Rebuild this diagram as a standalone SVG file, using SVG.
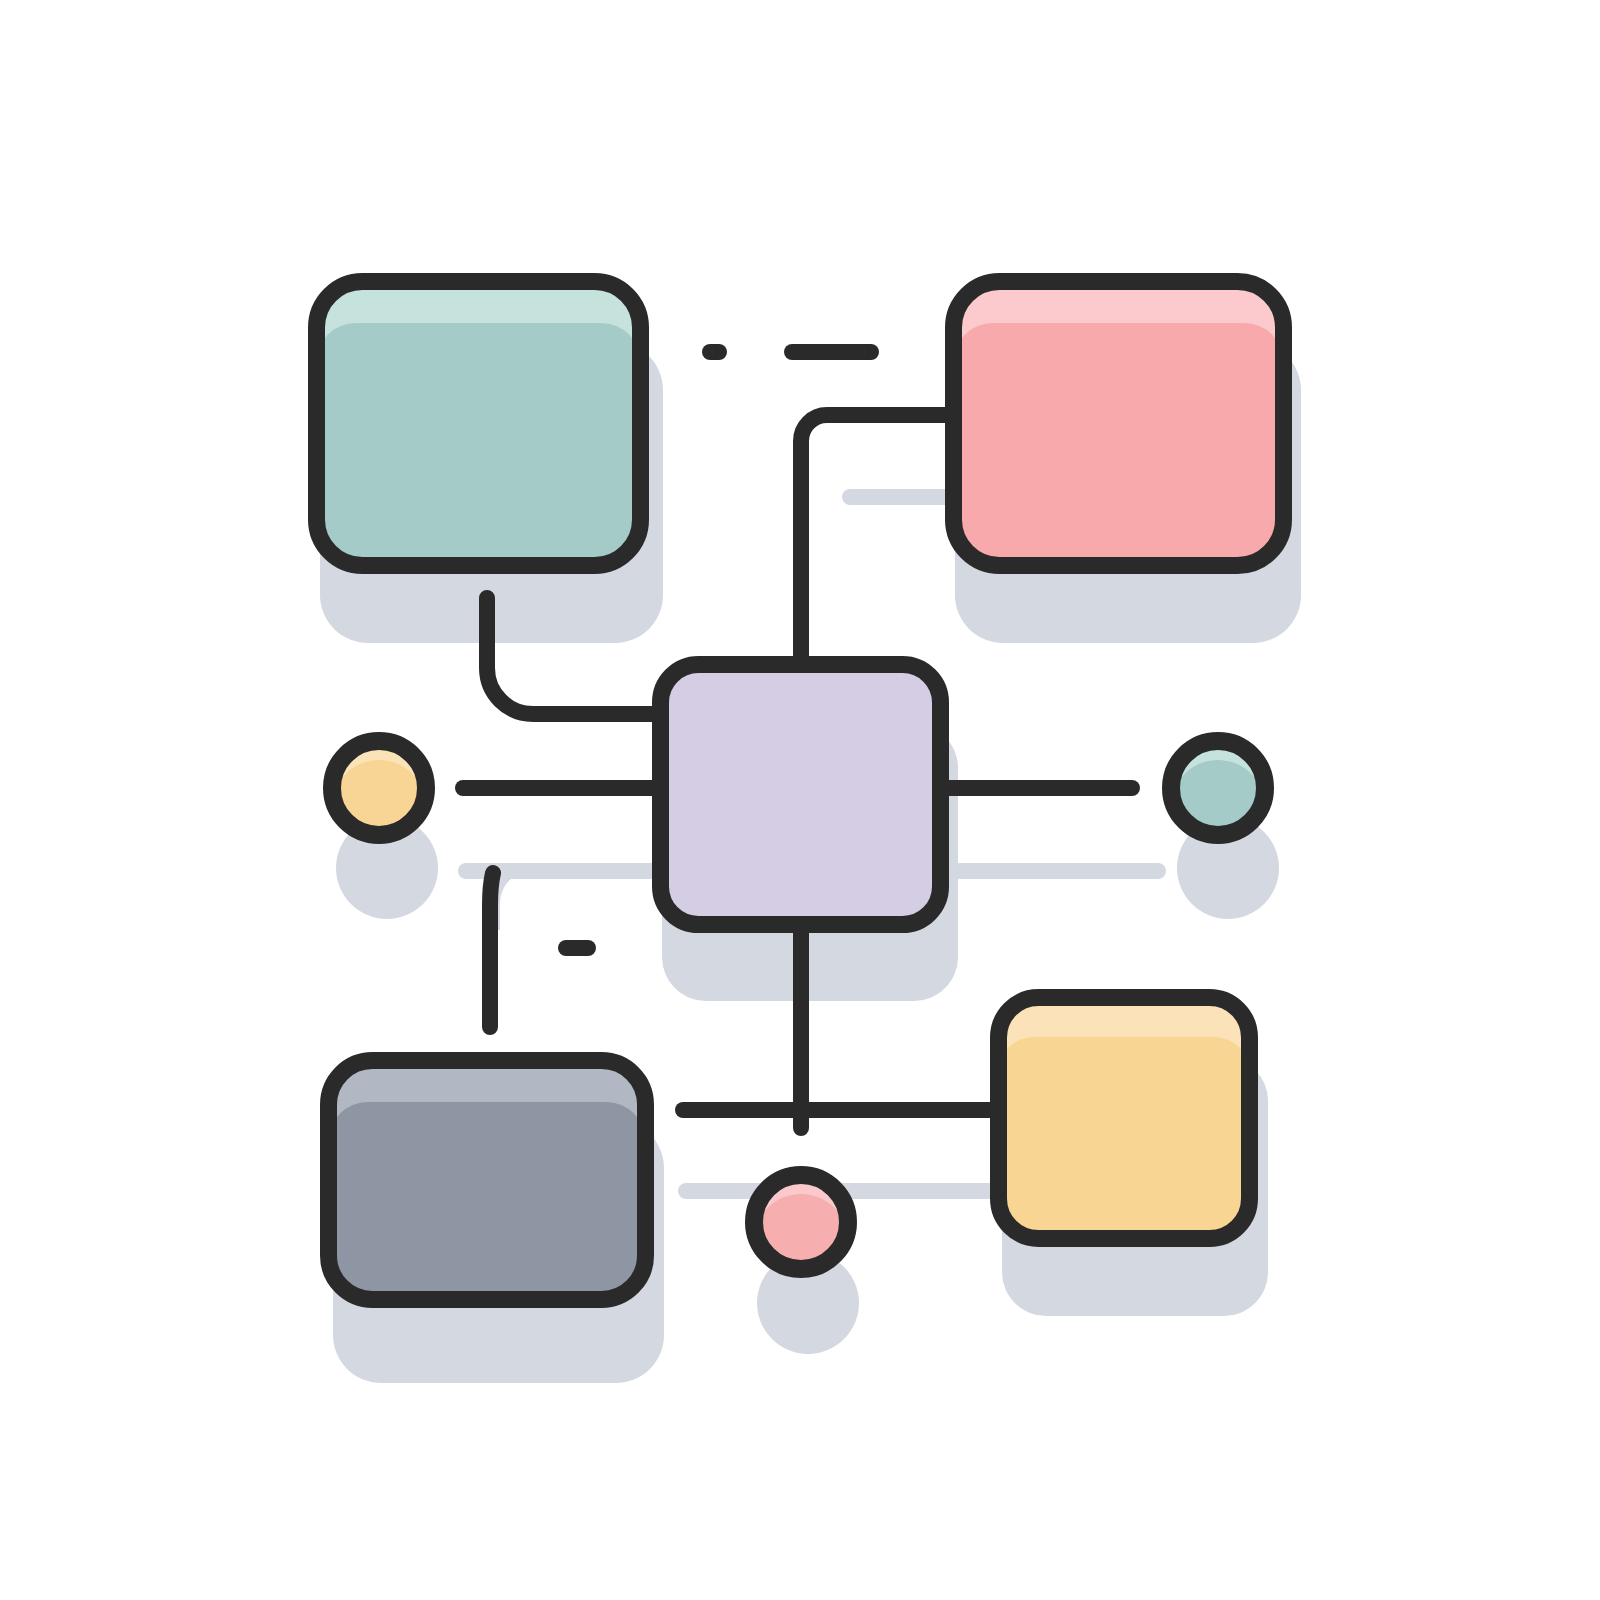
<svg xmlns="http://www.w3.org/2000/svg" width="1600" height="1600" viewBox="0 0 1600 1600">
<style>
.sh{fill:#d3d8e1}
.shl{stroke:#d3d8e1;stroke-width:16;stroke-linecap:round;fill:none}
.ln{stroke:#2a2a2a;stroke-width:16;stroke-linecap:round;stroke-linejoin:round;fill:none}
.bx{fill:none;stroke:#2a2a2a;stroke-width:17}
.cr{fill:none;stroke:#2a2a2a;stroke-width:18}
</style>
<defs>
<clipPath id="cTL"><rect x="316.5" y="281.5" width="324" height="284" rx="46"/></clipPath>
<clipPath id="cTR"><rect x="953.5" y="281.5" width="330" height="284" rx="46"/></clipPath>
<clipPath id="cBL"><rect x="328.5" y="1060.5" width="317" height="239" rx="44"/></clipPath>
<clipPath id="cBR"><rect x="998.5" y="997.5" width="251" height="241" rx="40"/></clipPath>
<clipPath id="cY"><circle cx="379" cy="788" r="47"/></clipPath>
<clipPath id="cT"><circle cx="1218" cy="788" r="47"/></clipPath>
<clipPath id="cP"><circle cx="801" cy="1222" r="47"/></clipPath>
</defs>
<rect width="1600" height="1600" fill="#ffffff"/>
<g id="shadows">
<rect class="sh" x="320" y="342" width="343" height="301" rx="48"/>
<rect class="sh" x="955" y="342" width="346" height="301" rx="48"/>
<rect class="sh" x="662" y="724" width="296" height="277" rx="44"/>
<rect class="sh" x="333" y="1120" width="331" height="263" rx="48"/>
<rect class="sh" x="1002" y="1057" width="266" height="259" rx="44"/>
<circle class="sh" cx="387" cy="868" r="51"/>
<circle class="sh" cx="1228" cy="868" r="51"/>
<circle class="sh" cx="808" cy="1303" r="51"/>
<path class="shl" d="M850 497 H945"/>
<path class="shl" d="M466 871 H652"/>
<path class="sh" d="M488 871 H532 A32 32 0 0 0 500 903 V930 H488 Z"/>
<path class="shl" d="M960 871 H1158"/>
<path class="shl" d="M686 1191 H990"/>
</g>
<g id="connectors">
<path class="ln" d="M710 352 H719"/>
<path class="ln" d="M792 352 H871"/>
<path class="ln" d="M945 415 H827 A26 26 0 0 0 801 441 V656"/>
<path class="ln" d="M487 598 V668 A46 46 0 0 0 533 714 H652"/>
<path class="ln" d="M463 788 H652"/>
<path class="ln" d="M493 873 Q490 886 490 905 V1027"/>
<path class="ln" d="M566 948 H588"/>
<path class="ln" d="M949 788 H1132"/>
<path class="ln" d="M801 933 V1128"/>
<path class="ln" d="M683 1110 H990"/>
</g>
<g id="node-tl">
<g clip-path="url(#cTL)">
<rect x="316" y="281" width="325" height="285" fill="#c6e2dd"/>
<rect x="316" y="323" width="325" height="260" rx="40" fill="#a4cbc8"/>
</g>
<rect class="bx" x="316.5" y="281.5" width="324" height="284" rx="46"/>
</g>
<g id="node-tr">
<g clip-path="url(#cTR)">
<rect x="953" y="281" width="331" height="285" fill="#fccacc"/>
<rect x="953" y="323" width="331" height="260" rx="40" fill="#f8a9ab"/>
</g>
<rect class="bx" x="953.5" y="281.5" width="330" height="284" rx="46"/>
</g>
<g id="node-center">
<rect x="660.5" y="664.5" width="280" height="260" rx="38" fill="#d5cde4"/>
<rect class="bx" x="660.5" y="664.5" width="280" height="260" rx="38"/>
</g>
<g id="node-bl">
<g clip-path="url(#cBL)">
<rect x="328" y="1060" width="318" height="240" fill="#b2b8c3"/>
<rect x="328" y="1102" width="318" height="220" rx="40" fill="#8f96a3"/>
</g>
<rect class="bx" x="328.5" y="1060.5" width="317" height="239" rx="44"/>
</g>
<g id="node-br">
<g clip-path="url(#cBR)">
<rect x="998" y="997" width="252" height="242" fill="#fbe2b8"/>
<rect x="998" y="1037" width="252" height="220" rx="36" fill="#f9d594"/>
</g>
<rect class="bx" x="998.5" y="997.5" width="251" height="241" rx="40"/>
</g>
<g id="node-yellow-dot">
<g clip-path="url(#cY)">
<circle cx="379" cy="788" r="47" fill="#fbe3b8"/>
<circle cx="379" cy="807" r="47" fill="#f8d595"/>
</g>
<circle class="cr" cx="379" cy="788" r="47"/>
</g>
<g id="node-teal-dot">
<g clip-path="url(#cT)">
<circle cx="1218" cy="788" r="47" fill="#c6e2dd"/>
<circle cx="1218" cy="807" r="47" fill="#a4cbc8"/>
</g>
<circle class="cr" cx="1218" cy="788" r="47"/>
</g>
<g id="node-pink-dot">
<g clip-path="url(#cP)">
<circle cx="801" cy="1222" r="47" fill="#fbc9cc"/>
<circle cx="801" cy="1241" r="47" fill="#f6aeae"/>
</g>
<circle class="cr" cx="801" cy="1222" r="47"/>
</g>
</svg>
